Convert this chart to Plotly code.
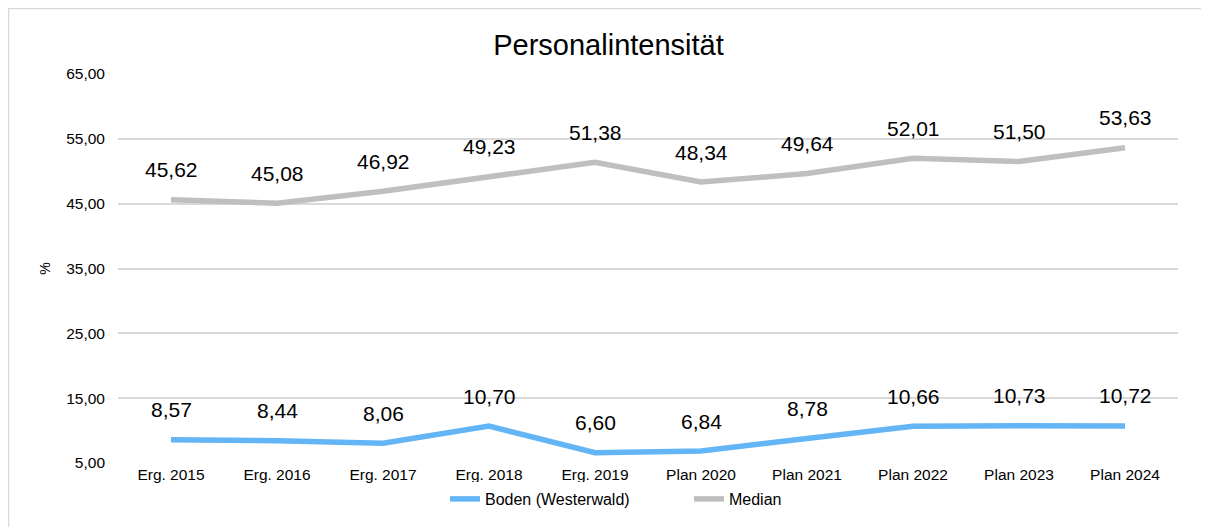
import plotly.graph_objects as go

categories = ["Erg. 2015", "Erg. 2016", "Erg. 2017", "Erg. 2018", "Erg. 2019",
              "Plan 2020", "Plan 2021", "Plan 2022", "Plan 2023", "Plan 2024"]
boden = [8.57, 8.44, 8.06, 10.70, 6.60, 6.84, 8.78, 10.66, 10.73, 10.72]
median = [45.62, 45.08, 46.92, 49.23, 51.38, 48.34, 49.64, 52.01, 51.50, 53.63]
y_ticks = [5, 15, 25, 35, 45, 55, 65]
y_tick_labels = ["5,00", "15,00", "25,00", "35,00", "45,00", "55,00", "65,00"]

FONT = "Liberation Sans, Arial, sans-serif"


def fmt(v):
    return f"{v:.2f}".replace(".", ",")


fig = go.Figure()

series = [
    ("Boden (Westerwald)", boden, "#64B5F6"),
    ("Median", median, "#BFBFBF"),
]

for name, values, color in series:
    fig.add_trace(go.Scatter(
        x=categories,
        y=values,
        mode="lines",
        name=name,
        line=dict(color=color, width=5.5),
    ))
    # Data labels above each point.
    for cat, val in zip(categories, values):
        fig.add_annotation(
            x=cat, y=val, text=fmt(val),
            showarrow=False, yshift=30,
            font=dict(family=FONT, size=21, color="#000000"),
        )

# The page body has an 8px margin, so the figure is 8px smaller than the window.
fig.update_layout(
    width=1201,
    height=519,
    margin=dict(l=110, r=31, t=66, b=64, autoexpand=False),
    paper_bgcolor="white",
    plot_bgcolor="white",
    font=dict(family=FONT, color="#000000"),
    title=dict(
        text="Personalintensität",
        x=0.5, xanchor="center",
        y=0.929, yanchor="middle",
        font=dict(family=FONT, size=29, color="#000000"),
    ),
    xaxis=dict(
        type="category",
        range=[-0.5, 9.5],
        showgrid=False,
        showline=False,
        zeroline=False,
        ticks="",
        automargin=False,
        tickfont=dict(family=FONT, size=15.5, color="#000000"),
    ),
    yaxis=dict(
        range=[5, 65],
        tickvals=y_ticks,
        ticktext=y_tick_labels,
        showgrid=True,
        gridcolor="#D9D9D9",
        gridwidth=1.5,
        zeroline=False,
        showline=False,
        ticks="",
        ticklabelstandoff=12,
        automargin=False,
        tickfont=dict(family=FONT, size=15.5, color="#000000"),
        title=dict(text="%", font=dict(family=FONT, size=14, color="#000000"),
                   standoff=12),
    ),
    legend=dict(
        orientation="h",
        x=0.567, xanchor="center", xref="container",
        y=0.054, yanchor="middle", yref="container",
        font=dict(family=FONT, size=16, color="#000000"),
        tracegroupgap=0,
        entrywidth=199,
        entrywidthmode="pixels",
    ),
    shapes=[dict(
        type="rect", xref="paper", yref="paper",
        x0=-0.1033, x1=1.05, y0=-0.3, y1=1.1684,
        line=dict(color="#D9D9D9", width=1.5),
        fillcolor="rgba(0,0,0,0)",
    )],
)

fig.write_html("out.html")
